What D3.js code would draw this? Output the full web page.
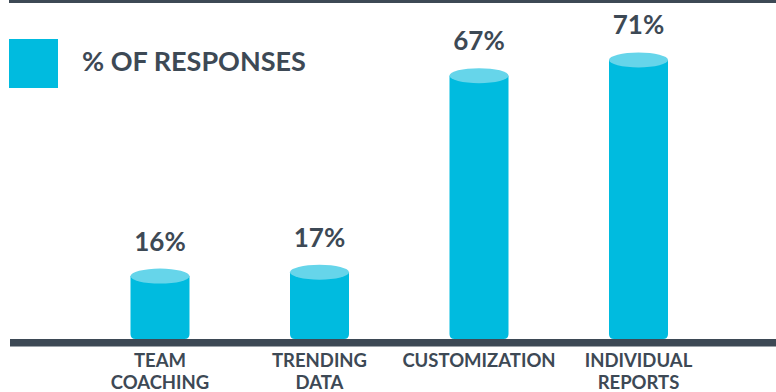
<!DOCTYPE html>
<html>
  <head>
    <meta charset="utf-8">
    <script src="https://cdn.jsdelivr.net/npm/d3@7"></script>
    <style>
      body { margin: 0; background: #fff; }
      text { font-family: Lato, "Open Sans", sans-serif; font-weight: 700; fill: #3d4955; }
    </style>
  </head>
  <body>
    <svg width="776" height="392"></svg>
    <script>

      // Data
      var categories = ["TEAM COACHING", "TRENDING DATA", "CUSTOMIZATION", "INDIVIDUAL REPORTS"];
      var labelLines = [["TEAM", "COACHING"], ["TRENDING", "DATA"], ["CUSTOMIZATION"], ["INDIVIDUAL", "REPORTS"]];
      var responses = [16, 17, 67, 71];
      var seriesName = "% OF RESPONSES";

      var svg = d3.select("svg");
      var baseY = 339;
      var barW = 59;
      var ry = 7.5;
      var barColor = "#00bbdf";
      var topColor = "#66d5ea";
      var dark = "#3d4955";

      var x = d3.scalePoint()
        .domain(categories)
        .range([160, 638.5]);

      var y = d3.scaleLinear()
        .domain([0, 72])
        .range([baseY, 56]);

      // top rule and baseline
      svg.append("rect").attr("x", 9).attr("y", 0).attr("width", 767).attr("height", 3).attr("fill", dark);
      svg.append("rect").attr("x", 10).attr("y", baseY).attr("width", 766).attr("height", 7.5).attr("fill", dark);

      // legend
      svg.append("rect").attr("x", 9).attr("y", 39).attr("width", 49).attr("height", 49).attr("fill", barColor);
      svg.append("text").attr("x", 82).attr("y", 71).style("font-size", "27px").text(seriesName);

      var data = categories.map(function(c, i) {
        return { cat: c, value: responses[i], lines: labelLines[i] };
      });

      var g = svg.selectAll(".bar").data(data).enter().append("g").attr("class", "bar");

      // cylinder body with rounded bottom corners
      g.append("path")
        .attr("fill", barColor)
        .attr("d", function(d) {
          var x0 = x(d.cat) - barW / 2, x1 = x(d.cat) + barW / 2, t = y(d.value), r = 5;
          return "M" + x0 + "," + t + "L" + x0 + "," + (baseY - r) +
            "Q" + x0 + "," + baseY + " " + (x0 + r) + "," + baseY +
            "L" + (x1 - r) + "," + baseY +
            "Q" + x1 + "," + baseY + " " + x1 + "," + (baseY - r) +
            "L" + x1 + "," + t + "Z";
        });

      // cylinder top
      g.append("ellipse")
        .attr("cx", function(d) { return x(d.cat); })
        .attr("cy", function(d) { return y(d.value); })
        .attr("rx", barW / 2)
        .attr("ry", ry)
        .attr("fill", topColor);

      // value labels
      g.append("text")
        .attr("x", function(d) { return x(d.cat); })
        .attr("y", function(d) { return y(d.value) - ry - 18; })
        .attr("text-anchor", "middle")
        .style("font-size", "26px")
        .text(function(d) { return d.value + "%"; });

      // category labels
      g.append("text")
        .attr("text-anchor", "middle")
        .style("font-size", "18.5px")
        .selectAll("tspan")
        .data(function(d) { return d.lines.map(function(l) { return { l: l, cx: x(d.cat) }; }); })
        .enter()
        .append("tspan")
        .attr("x", function(t) { return t.cx; })
        .attr("y", function(t, i) { return 367 + i * 22; })
        .text(function(t) { return t.l; });

    </script>
  </body>
</html>
